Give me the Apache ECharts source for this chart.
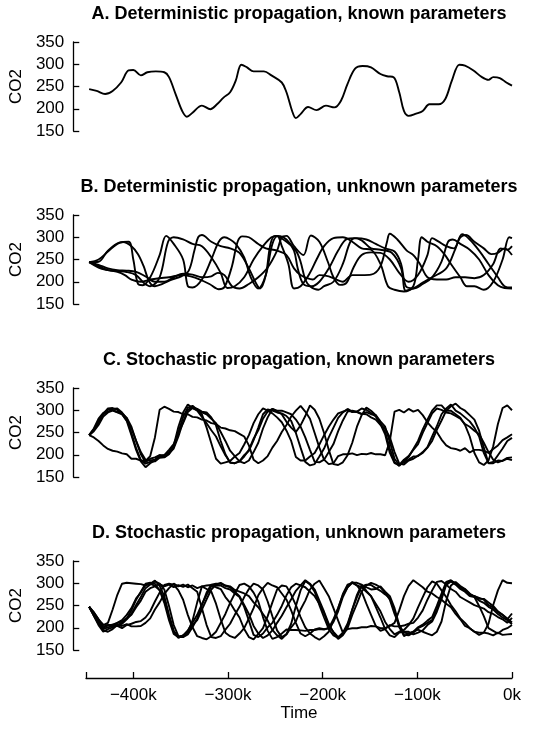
<!DOCTYPE html>
<html>
<head>
<meta charset="utf-8">
<script src="https://cdn.jsdelivr.net/npm/echarts@6/dist/echarts.min.js"></script>
<style>
html,body{margin:0;padding:0;background:#fff;}
#c{width:539px;height:740px;}
</style>
</head>
<body>
<div id="c"></div>
<script>
// ---------- DATA ----------
var TITLES = [
  'A. Deterministic propagation, known parameters',
  'B. Deterministic propagation, unknown parameters',
  'C. Stochastic propagation, known parameters',
  'D. Stochastic propagation, unknown parameters'
];
var Y_TICKS = [150, 200, 250, 300, 350];
var X_TICKS = [-450, -400, -300, -200, -100, 0];
var X_LABELS = [-400, -300, -200, -100, 0];

// Panel A (time in kyr, CO2)
var A1 = [[-450,244],[-442,240],[-433,233],[-425,240],[-416,259],[-408,286],[-403,287],[-395,275],[-388,282],[-379,284],[-370,282],[-365,271],[-358,233],[-351,195],[-346,182],[-340,191],[-330,207],[-321,199],[-314,210],[-307,225],[-300,237],[-294,263],[-288,299],[-282,293],[-275,284],[-264,284],[-256,275],[-245,259],[-240,237],[-234,195],[-230,179],[-225,188],[-217,204],[-208,197],[-198,207],[-189,203],[-182,218],[-175,256],[-167,290],[-159,296],[-150,293],[-140,278],[-133,273],[-126,271],[-120,237],[-115,195],[-110,184],[-102,189],[-95,195],[-88,210],[-83,210],[-78,210],[-71,222],[-64,263],[-56,299],[-50,297],[-41,286],[-32,271],[-25,265],[-20,271],[-13,269],[-6,259],[0,252]];

// Panel B
var B1 = [[-450,244],[-440,250],[-430,268],[-420,285],[-414,289],[-405,280],[-398,262],[-392,235],[-386,200],[-380,190],[-372,195],[-362,205],[-352,212],[-344,225],[-338,270],[-334,300],[-330,305],[-320,290],[-310,280],[-300,275],[-290,265],[-280,230],[-272,195],[-268,185],[-262,215],[-257,285],[-252,303],[-240,290],[-230,270],[-225,245],[-220,205],[-215,190],[-206,182],[-200,190],[-190,200],[-180,240],[-172,290],[-166,298],[-155,295],[-145,285],[-135,275],[-125,268],[-118,240],[-113,190],[-105,185],[-95,195],[-85,210],[-75,245],[-68,290],[-63,295],[-55,285],[-45,272],[-35,250],[-25,215],[-15,192],[-8,186],[0,185]];
var B2 = [[-450,244],[-440,245],[-430,270],[-418,288],[-408,290],[-403,250],[-398,195],[-393,192],[-385,210],[-375,260],[-368,303],[-360,285],[-350,250],[-345,190],[-340,187],[-330,205],[-320,250],[-312,290],[-306,300],[-300,295],[-294,285],[-285,255],[-278,210],[-270,185],[-262,215],[-255,285],[-249,303],[-240,295],[-232,270],[-228,230],[-222,195],[-213,190],[-205,200],[-195,230],[-185,270],[-176,296],[-168,298],[-160,293],[-150,275],[-140,272],[-128,265],[-118,230],[-113,180],[-105,185],[-95,198],[-85,210],[-70,230],[-60,275],[-53,307],[-45,295],[-35,270],[-25,240],[-15,210],[-8,190],[0,187]];
var B3 = [[-450,244],[-440,235],[-430,226],[-420,224],[-410,222],[-400,215],[-392,198],[-385,190],[-375,210],[-366,290],[-360,300],[-350,295],[-340,285],[-330,280],[-320,255],[-310,220],[-303,186],[-295,190],[-285,210],[-275,250],[-265,280],[-256,300],[-250,303],[-245,280],[-238,240],[-232,185],[-225,190],[-215,220],[-208,250],[-200,280],[-190,298],[-180,300],[-170,290],[-160,275],[-150,272],[-140,240],[-132,190],[-125,182],[-115,178],[-105,190],[-100,250],[-96,300],[-90,290],[-80,280],[-72,262],[-65,240],[-55,210],[-48,190],[-40,190],[-30,182],[-20,200],[-10,250],[-3,300],[0,298]];
var B4 = [[-450,244],[-440,232],[-430,226],[-420,222],[-412,215],[-405,205],[-395,200],[-385,205],[-375,208],[-365,210],[-352,215],[-342,212],[-332,205],[-322,195],[-312,183],[-306,188],[-298,235],[-292,290],[-287,302],[-280,300],[-270,285],[-262,275],[-250,270],[-240,260],[-232,230],[-225,215],[-218,208],[-212,205],[-205,215],[-195,212],[-187,205],[-180,200],[-170,215],[-160,215],[-150,216],[-140,235],[-133,290],[-130,308],[-122,295],[-112,270],[-105,260],[-98,240],[-90,210],[-80,205],[-70,205],[-60,210],[-50,210],[-40,208],[-30,215],[-20,240],[-12,275],[-5,272],[0,280]];
var B5 = [[-450,244],[-440,238],[-430,230],[-420,226],[-410,225],[-400,222],[-390,212],[-380,200],[-370,200],[-360,210],[-350,218],[-340,216],[-330,210],[-320,212],[-313,220],[-306,215],[-298,190],[-290,185],[-280,195],[-270,210],[-260,232],[-250,270],[-245,300],[-240,303],[-232,280],[-222,260],[-214,304],[-205,290],[-196,245],[-190,210],[-183,193],[-176,198],[-168,235],[-160,260],[-150,266],[-140,265],[-130,250],[-120,220],[-110,200],[-100,215],[-90,260],[-85,298],[-78,290],[-70,280],[-62,275],[-55,300],[-49,305],[-40,290],[-30,275],[-22,262],[-15,265],[-8,275],[0,260]];

// Panels C and D: values every 5 kyr
var TIME = [
 -450,-445,-440,-435,-430,-425,-420,-415,-410,-405,
 -400,-395,-390,-385,-380,-375,-370,-365,-360,-355,
 -350,-345,-340,-335,-330,-325,-320,-315,-310,-305,
 -300,-295,-290,-285,-280,-275,-270,-265,-260,-255,
 -250,-245,-240,-235,-230,-225,-220,-215,-210,-205,
 -200,-195,-190,-185,-180,-175,-170,-165,-160,-155,
 -150,-145,-140,-135,-130,-125,-120,-115,-110,-105,
 -100,-95,-90,-85,-80,-75,-70,-65,-60,-55,
 -50,-45,-40,-35,-30,-25,-20,-15,-10,-5,
 0];

var C1 = [
 244,259,281,294,301,303,304,295,282,248,
 215,188,180,184,185,193,194,201,217,251,
 285,306,310,301,291,261,226,191,180,183,
 186,196,204,223,244,271,291,304,299,293,
 284,273,254,231,195,187,187,196,204,223,
 244,263,279,293,297,301,296,297,292,291,
 284,279,267,259,239,206,180,178,187,191,
 198,204,216,231,256,277,299,309,315,305,
 299,289,279,254,216,181,181,187,186,191,
 188];
var C2 = [
 244,256,271,291,297,301,296,293,283,263,
 231,201,183,191,194,199,199,206,221,263,
 295,313,305,299,285,271,255,241,219,199,
 183,181,185,199,209,233,261,291,302,299,
 295,293,287,276,249,216,184,176,179,196,
 214,239,261,283,295,303,297,296,291,296,
 291,289,275,263,229,191,177,183,189,196,
 197,206,217,241,264,291,304,313,299,293,
 284,275,261,241,204,181,184,199,214,231,
 238];
var C3 = [
 244,257,276,292,304,305,301,291,276,244,
 211,185,172,181,187,196,199,211,224,249,
 271,296,305,301,295,291,281,271,251,231,
 209,197,185,181,187,206,227,259,284,303,
 299,299,295,291,279,263,239,211,184,183,
 189,206,224,253,277,297,299,297,304,301,
 294,286,269,246,204,181,177,189,197,211,
 224,249,271,293,304,301,295,293,287,281,
 269,263,254,246,227,206,189,183,187,193,
 194];
var C4 = [
 244,253,267,286,295,299,295,291,277,259,
 231,206,189,187,189,199,195,203,214,241,
 274,301,307,303,297,295,284,266,231,201,
 182,181,185,196,211,236,255,281,297,303,
 297,291,274,261,251,266,287,311,301,281,
 249,211,179,177,183,199,227,263,289,306,
 299,289,271,251,214,183,175,185,195,213,
 231,257,279,299,311,311,299,299,291,283,
 267,241,204,183,177,187,219,269,305,311,
 300];
var C5 = [
 244,239,231,221,213,209,207,203,201,191,
 191,187,186,197,239,301,308,303,297,296,
 291,291,285,284,279,277,271,269,261,259,
 255,253,247,241,221,189,181,187,197,216,
 231,251,267,286,299,310,297,281,249,216,
 189,179,181,197,201,201,203,199,202,201,
 204,201,201,199,231,297,301,295,303,297,
 301,289,273,261,251,234,221,215,213,209,
 215,205,211,211,209,204,213,221,233,239,
 246];

var D1 = [
 247,231,215,206,211,241,274,299,301,300,
 299,298,295,299,294,298,293,297,291,296,
 292,297,289,281,244,206,179,177,181,196,
 209,229,247,269,287,299,295,286,259,226,
 194,179,185,201,214,241,261,286,299,306,
 289,271,244,216,189,197,199,199,201,201,
 204,203,199,199,204,211,239,271,294,307,
 299,291,281,277,269,263,254,246,231,219,
 204,199,191,189,189,187,183,189,184,185,
 186];
var D2 = [
 247,229,211,194,191,197,206,211,221,239,
 263,281,299,301,299,284,256,217,186,179,
 183,194,211,229,253,274,293,295,295,289,
 286,277,269,247,216,184,179,187,201,211,
 229,249,273,291,299,295,291,281,271,254,
 233,204,191,179,189,209,241,269,293,297,
 296,289,283,275,266,237,201,184,183,189,
 199,204,211,217,241,269,299,305,301,291,
 286,275,271,265,265,257,249,237,229,221,
 212];
var D3 = [
 247,234,219,199,206,207,211,217,229,244,
 266,279,296,299,306,294,271,229,193,179,
 179,185,201,221,251,279,297,299,299,294,
 291,281,271,251,231,204,187,177,183,194,
 211,227,246,264,283,295,307,299,286,261,
 236,209,189,175,183,199,229,254,281,295,
 301,297,291,279,263,231,206,189,187,191,
 201,207,216,224,249,277,303,307,299,289,
 283,274,271,267,263,251,246,235,229,219,
 232];
var D4 = [
 247,227,206,191,197,201,206,209,219,231,
 251,269,289,297,304,299,286,249,206,181,
 181,191,216,257,293,295,296,291,287,269,
 256,239,223,197,179,174,186,199,226,257,
 286,295,293,274,251,224,201,187,179,173,
 181,191,216,244,276,297,301,295,291,281,
 271,247,223,197,183,179,189,191,191,185,
 189,194,206,214,236,264,296,304,297,287,
 281,271,269,261,256,247,241,231,223,217,
 208];
var D5 = [
 247,231,213,201,206,207,206,204,208,203,
 203,204,211,221,241,257,276,289,299,293,
 297,291,295,289,293,287,281,254,219,189,
 181,177,187,199,221,244,273,289,301,295,
 291,277,263,239,211,187,181,187,196,199,
 197,199,219,244,273,291,301,301,297,283,
 271,254,237,213,197,185,191,195,206,221,
 246,269,291,304,299,284,269,251,237,221,
 211,199,191,184,189,209,251,284,307,301,
 300];
var D6 = [
 247,227,209,197,201,204,204,199,206,209,
 213,215,223,237,259,279,296,299,297,284,
 263,229,201,181,177,174,181,191,211,231,
 256,277,296,299,293,279,259,224,193,175,
 179,187,196,195,195,194,193,195,195,197,
 196,199,213,237,269,291,303,295,281,254,
 229,204,193,197,206,203,203,205,209,211,
 223,239,263,284,303,305,297,287,281,269,
 263,257,251,247,243,235,231,224,219,211,
 222];
var D7 = [
 247,235,219,207,205,205,211,214,221,229,
 246,261,281,289,293,285,263,224,191,177,
 183,189,206,217,241,264,286,297,301,295,
 293,285,281,277,271,257,246,231,216,195,
 183,175,186,209,249,284,305,297,281,251,
 223,197,183,177,187,204,241,274,296,291,
 286,287,293,281,271,244,206,181,187,191,
 196,191,187,183,191,214,261,295,303,294,
 287,277,269,249,226,199,193,187,195,199,
 206];

var PANEL_A = [A1];
var PANEL_B = [B1, B2, B3, B4, B5];
var PANEL_C = [C1, C2, C3, C4, C5];
var PANEL_D = [D1, D2, D3, D4, D5, D6, D7];

// ---------- LAYOUT ----------
// y-axis line sits 16 px left of the first data point (R-style axis gap):
// the data grids start at the y-axis line and their time range is padded on the left.
var AXIS_X = 70, DATA_LEFT = 86, RIGHT_EDGE = 512, W = 539;
var X_MIN = -450, X_MAX = 0;
var X_PAD_MIN = X_MIN - (DATA_LEFT - AXIS_X) * (X_MAX - X_MIN) / (RIGHT_EDGE - DATA_LEFT);
var GRID_H = 89;
var TOPS = [42, 215, 388, 561];
var X_AXIS_Y = 678;
var FONT = 'Liberation Sans, Arial, Helvetica, sans-serif';
var INK = '#000';

function zip(vals) { return TIME.map(function (t, i) { return [t, vals[i]]; }); }

var grids = [], xAxes = [], yAxes = [], series = [], titles = [];
TOPS.forEach(function (top, p) {
  grids.push({ left: AXIS_X, right: W - RIGHT_EDGE, top: top, height: GRID_H });
  titles.push({
    text: TITLES[p], left: (DATA_LEFT + RIGHT_EDGE) / 2, top: top - 37, textAlign: 'center', padding: 0,
    textStyle: { fontFamily: FONT, fontWeight: 'bold', fontSize: 18, color: INK, lineHeight: 18 }
  });
  xAxes.push({ gridIndex: p, type: 'value', min: X_PAD_MIN, max: X_MAX, show: false });
  yAxes.push({
    gridIndex: p, type: 'value', min: 150, max: 350, interval: 50, position: 'left',
    axisLine: { show: true, onZero: false, lineStyle: { color: INK, width: 1.3 } },
    axisTick: { show: true, inside: true, length: 6, lineStyle: { color: INK, width: 1.3 } },
    axisLabel: { show: true, margin: 9, color: INK, fontFamily: FONT, fontSize: 17 },
    splitLine: { show: false },
    name: 'CO2', nameLocation: 'middle', nameGap: 42, nameRotate: 90,
    nameTextStyle: { color: INK, fontFamily: FONT, fontSize: 17 }
  });
});

// separate grid holding only the shared time axis (spans -450k..0k)
grids.push({ left: DATA_LEFT, right: W - RIGHT_EDGE, top: X_AXIS_Y - 1, height: 1 });
xAxes.push({
  gridIndex: 4, type: 'value', min: X_MIN, max: X_MAX, position: 'bottom',
  axisLine: { show: true, onZero: false, lineStyle: { color: INK, width: 1.3 } },
  axisTick: { show: true, inside: true, length: 6, customValues: X_TICKS, lineStyle: { color: INK, width: 1.3 } },
  axisLabel: {
    show: true, customValues: X_LABELS, margin: 9, color: INK, fontFamily: FONT, fontSize: 17,
    formatter: function (v) { return v === 0 ? '0k' : '\u2212' + Math.abs(v) + 'k'; }
  },
  splitLine: { show: false },
  name: 'Time', nameLocation: 'middle', nameGap: 27,
  nameTextStyle: { color: INK, fontFamily: FONT, fontSize: 17 }
});
yAxes.push({ gridIndex: 4, type: 'value', min: 0, max: 1, show: false });

function addLines(list, p, smooth, isPairs) {
  list.forEach(function (vals) {
    series.push({
      type: 'line', xAxisIndex: p, yAxisIndex: p,
      data: isPairs ? vals : zip(vals),
      showSymbol: false, symbol: 'none', smooth: smooth, animation: false,
      lineStyle: { color: INK, width: 1.9 }, silent: true
    });
  });
}
addLines(PANEL_A, 0, 0.35, true);
addLines(PANEL_B, 1, 0.35, true);
addLines(PANEL_C, 2, false, false);
addLines(PANEL_D, 3, false, false);

var chart = echarts.init(document.getElementById('c'), null, { renderer: 'canvas' });
chart.setOption({
  animation: false,
  backgroundColor: '#fff',
  title: titles,
  grid: grids,
  xAxis: xAxes,
  yAxis: yAxes,
  series: series
});
</script>
</body>
</html>
